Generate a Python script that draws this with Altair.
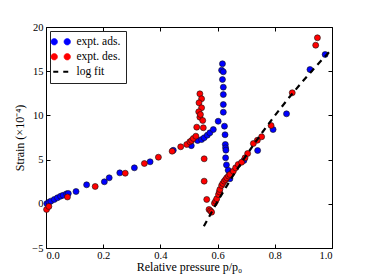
import altair as alt
import pandas as pd

# adsorption (blue)
ads_x = [0.003, 0.010, 0.017, 0.029, 0.040, 0.051, 0.060, 0.072, 0.078, 0.105, 0.142, 0.204,
         0.221, 0.258, 0.309, 0.364, 0.445, 0.508, 0.530, 0.544, 0.553, 0.564, 0.573, 0.585,
         0.602, 0.617, 0.614, 0.620, 0.617, 0.620, 0.620, 0.620, 0.620, 0.624, 0.626, 0.627,
         0.628, 0.629, 0.628, 0.631, 0.637, 0.649, 0.643, 0.692, 0.740, 0.794, 0.841, 0.923, 0.976]
ads_y = [0.02, 0.18, 0.30, 0.49, 0.68, 0.86, 0.97, 1.13, 1.17, 1.39, 2.15, 2.49,
         2.94, 3.50, 4.07, 4.75, 6.05, 6.58, 7.16, 7.27, 7.47, 7.76, 8.03, 8.40,
         9.34, 15.84, 15.11, 14.93, 14.06, 13.19, 12.36, 11.23, 10.36, 8.78, 7.81, 6.71,
         6.33, 6.07, 5.20, 4.40, 3.80, 3.50, 2.83, 4.90, 6.03, 8.40, 10.18, 15.19, 16.89]

# desorption (red)
des_x = [0.002, 0.010, 0.075, 0.172, 0.277, 0.344, 0.393, 0.441, 0.471, 0.492, 0.503, 0.509,
         0.515, 0.524, 0.527, 0.538, 0.548, 0.550, 0.538, 0.544, 0.535, 0.544, 0.534, 0.540,
         0.553, 0.553, 0.562, 0.570, 0.575, 0.579, 0.589, 0.593, 0.597, 0.603, 0.606, 0.608,
         0.614, 0.618, 0.623, 0.628, 0.632, 0.638, 0.643, 0.655, 0.663, 0.672, 0.684, 0.696,
         0.705, 0.725, 0.739, 0.754, 0.787, 0.861, 0.943, 0.949]
des_y = [-0.64, -0.30, 0.77, 1.96, 3.46, 4.56, 5.27, 5.95, 6.45, 6.71, 7.01, 7.16,
         7.39, 7.65, 8.67, 9.80, 9.42, 8.60, 12.44, 11.88, 11.43, 10.86, 10.41, 10.10,
         5.09, 2.56, 0.49, -0.64, -0.80, -0.95, 0.07, 0.30, 0.57, 1.05, 1.35, 1.62,
         2.07, 2.30, 2.56, 2.75, 2.94, 3.15, 3.31, 3.69, 4.07, 4.45, 4.70, 5.20,
         5.69, 6.82, 7.19, 7.58, 8.86, 12.56, 17.94, 18.78]

# log fit
fit_x = [0.552, 0.60, 0.65, 0.70, 0.75, 0.80, 0.85, 0.90, 0.95, 1.00]
fit_y = [-2.55, 0.29, 2.98, 5.48, 7.80, 9.98, 12.02, 13.95, 15.77, 17.50]

series_names = ["expt. ads.", "expt. des.", "log fit"]
series_colors = ["#0000ff", "#ff0000", "#000000"]
x_ticks = [0.0, 0.2, 0.4, 0.6, 0.8, 1.0]
y_ticks = [-5, 0, 5, 10, 15, 20]

pts = pd.concat([
    pd.DataFrame({"p": ads_x, "s": ads_y, "series": series_names[0], "order": 0}),
    pd.DataFrame({"p": des_x, "s": des_y, "series": series_names[1], "order": 1}),
])
fit = pd.DataFrame({"p": fit_x, "s": fit_y, "series": series_names[2]})

FONT = "Liberation Serif"
xscale = alt.Scale(domain=[0, 1], nice=False, zero=False)
yscale = alt.Scale(domain=[-5, 20], nice=False, zero=False)
cscale = alt.Scale(domain=series_names, range=series_colors)

two_circles = ("M -1.95,0 A 0.65,0.65 0 1,0 -0.65,0 A 0.65,0.65 0 1,0 -1.95,0 Z "
               "M 0.65,0 A 0.65,0.65 0 1,0 1.95,0 A 0.65,0.65 0 1,0 0.65,0 Z")
is_fit = "datum.value === 'log fit'"

legend = alt.Legend(
    title=None, orient="none", legendX=4, legendY=4,
    padding=5, strokeColor="#222222", fillColor="white", cornerRadius=0,
    symbolSize=100, labelOffset=10, rowPadding=2,
    labelFont=FONT, labelFontSize=11.5, labelColor="black",
    symbolType=alt.ExprRef(expr=f"{is_fit} ? 'M -1.5,0 L 1.5,0' : '{two_circles}'"),
    symbolStrokeWidth=alt.ExprRef(expr=f"{is_fit} ? 2.2 : 0.6"),
    symbolDash=alt.ExprRef(expr=f"{is_fit} ? [5, 5] : [1, 0]"),
    symbolOpacity=1,
)

axis_common = dict(tickSize=4, offset=-4, domain=False, grid=False, tickColor="black",
                   labelFont=FONT, titleFont=FONT, labelColor="black", titleColor="black",
                   titleFontWeight="normal")

x_bottom = alt.Axis(values=x_ticks, format=".1f", labelPadding=2, labelFontSize=10.5,
                    title="Relative pressure p/p₀", titleFontSize=12, titlePadding=1,
                    **axis_common)
y_left = alt.Axis(values=y_ticks, format="d", labelPadding=3, labelFontSize=10.5,
                  title="Strain (×10⁻⁴)", titleFontSize=12, titlePadding=5, **axis_common)
x_top = alt.Axis(values=x_ticks, orient="top", labels=False, title=None, **axis_common)
y_right = alt.Axis(values=y_ticks, orient="right", labels=False, title=None, **axis_common)

points = alt.Chart(pts).mark_point(filled=True, size=36, stroke="#111111", strokeWidth=0.6,
                                    opacity=1).encode(
    x=alt.X("p:Q", scale=xscale, axis=x_bottom),
    y=alt.Y("s:Q", scale=yscale, axis=y_left),
    color=alt.Color("series:N", scale=cscale, legend=legend),
    order=alt.Order("order:Q"),
)

line = alt.Chart(fit).mark_line(strokeWidth=2.2, strokeDash=[6, 5]).encode(
    x=alt.X("p:Q", scale=xscale, axis=x_top),
    y=alt.Y("s:Q", scale=yscale, axis=y_right),
    color=alt.Color("series:N", scale=cscale, legend=legend),
)

chart = alt.layer(points, line).resolve_axis(x="independent", y="independent").properties(
    width=286, height=221,
    autosize=alt.AutoSizeParams(type="none"),
    padding={"left": 38, "top": 19, "right": 29, "bottom": 29},
    background="white",
).configure_view(stroke="black", strokeWidth=1)

chart.save("out.html", embed_options={"renderer": "svg", "actions": False})
